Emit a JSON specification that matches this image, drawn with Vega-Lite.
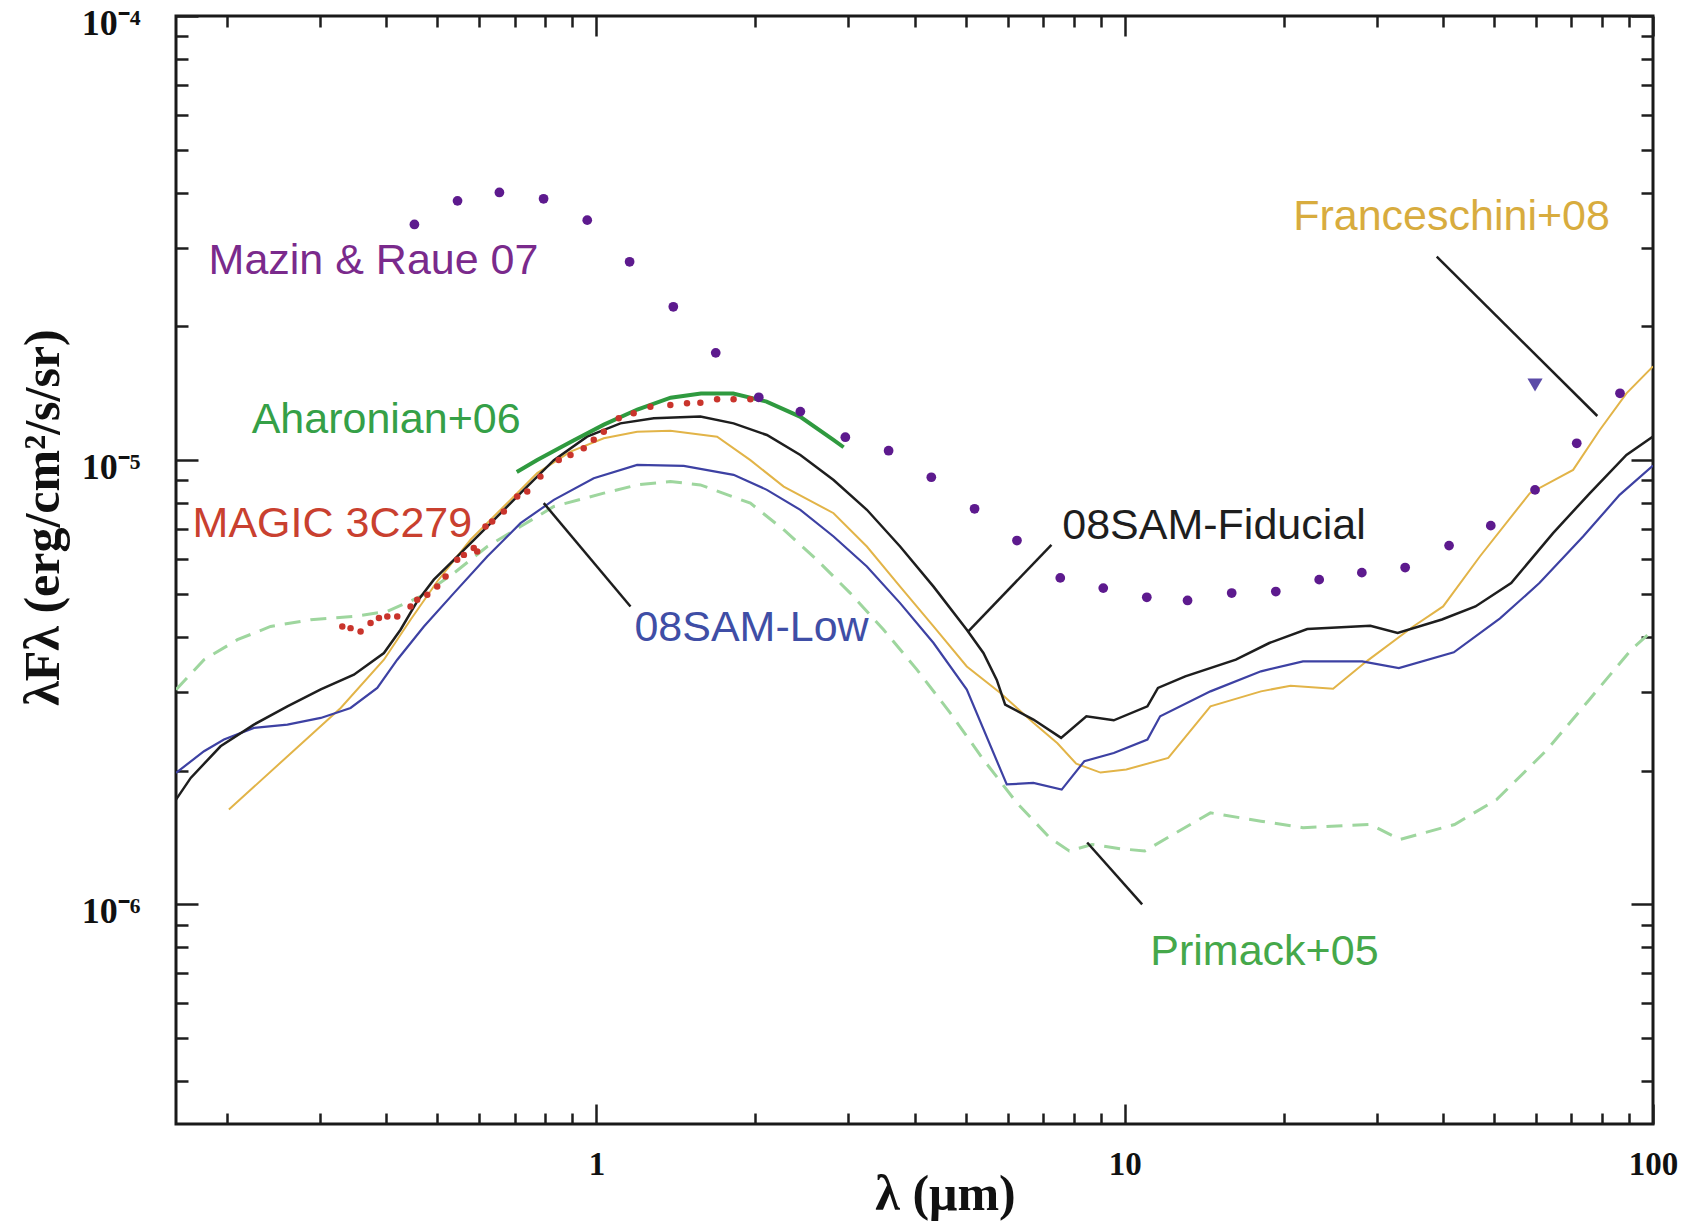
{
  "$schema": "https://vega.github.io/schema/vega-lite/v6.json",
  "width": 1477,
  "height": 1108,
  "autosize": {"type": "none"},
  "padding": {"left": 176, "top": 16, "right": 37, "bottom": 102},
  "background": "white",
  "config": {
    "view": {"stroke": "#1a1a1a", "strokeWidth": 3},
    "axis": {"domain": false, "grid": false}
  },
  "datasets": {
    "fiducial": [
      {"x":0.16,"y":1.72e-6},{"x":0.1706,"y":1.925e-6},{"x":0.1943,"y":2.268e-6},{"x":0.2247,"y":2.538e-6},{"x":0.26,"y":2.79e-6},{"x":0.3007,"y":3.045e-6},{"x":0.3474,"y":3.287e-6},{"x":0.396,"y":3.677e-6},{"x":0.4257,"y":4.151e-6},{"x":0.4578,"y":4.806e-6},{"x":0.4922,"y":5.381e-6},{"x":0.5372,"y":5.963e-6},{"x":0.6213,"y":7.087e-6},{"x":0.7183,"y":8.425e-6},{"x":0.8305,"y":1.0e-5},{"x":0.96,"y":1.129e-5},{"x":1.11,"y":1.21e-5},{"x":1.284,"y":1.242e-5},{"x":1.573,"y":1.253e-5},{"x":1.818,"y":1.21e-5},{"x":2.102,"y":1.139e-5},{"x":2.432,"y":1.027e-5},{"x":2.811,"y":9.02e-6},{"x":3.25,"y":7.73e-6},{"x":3.757,"y":6.39e-6},{"x":4.346,"y":5.19e-6},{"x":5.024,"y":4.15e-6},{"x":5.401,"y":3.68e-6},{"x":5.725,"y":3.2e-6},{"x":5.938,"y":2.815e-6},{"x":6.716,"y":2.605e-6},{"x":7.578,"y":2.369e-6},{"x":8.461,"y":2.649e-6},{"x":9.533,"y":2.595e-6},{"x":11.04,"y":2.79e-6},{"x":11.56,"y":3.069e-6},{"x":13.02,"y":3.258e-6},{"x":16.23,"y":3.553e-6},{"x":18.78,"y":3.874e-6},{"x":22.16,"y":4.165e-6},{"x":29.17,"y":4.238e-6},{"x":32.86,"y":4.08e-6},{"x":39.85,"y":4.377e-6},{"x":46.12,"y":4.683e-6},{"x":53.89,"y":5.286e-6},{"x":64.69,"y":6.85e-6},{"x":75.89,"y":8.42e-6},{"x":89.07,"y":1.027e-5},{"x":100,"y":1.13e-5}
    ],
    "low": [
      {"x":0.16,"y":1.976e-6},{"x":0.1808,"y":2.211e-6},{"x":0.1972,"y":2.348e-6},{"x":0.2247,"y":2.495e-6},{"x":0.26,"y":2.538e-6},{"x":0.3007,"y":2.627e-6},{"x":0.3424,"y":2.766e-6},{"x":0.3847,"y":3.069e-6},{"x":0.4197,"y":3.553e-6},{"x":0.4714,"y":4.221e-6},{"x":0.5372,"y":5.018e-6},{"x":0.6213,"y":6.067e-6},{"x":0.7183,"y":7.211e-6},{"x":0.8305,"y":8.137e-6},{"x":0.9883,"y":9.105e-6},{"x":1.194,"y":9.757e-6},{"x":1.463,"y":9.703e-6},{"x":1.818,"y":9.264e-6},{"x":2.102,"y":8.571e-6},{"x":2.432,"y":7.727e-6},{"x":2.811,"y":6.731e-6},{"x":3.25,"y":5.761e-6},{"x":3.757,"y":4.764e-6},{"x":4.346,"y":3.874e-6},{"x":5.024,"y":3.042e-6},{"x":5.98,"y":1.861e-6},{"x":6.716,"y":1.876e-6},{"x":7.598,"y":1.812e-6},{"x":8.385,"y":2.099e-6},{"x":9.533,"y":2.191e-6},{"x":11.04,"y":2.348e-6},{"x":11.67,"y":2.649e-6},{"x":14.53,"y":3.015e-6},{"x":18.11,"y":3.345e-6},{"x":21.75,"y":3.522e-6},{"x":28.15,"y":3.522e-6},{"x":33.03,"y":3.403e-6},{"x":41.97,"y":3.692e-6},{"x":51.34,"y":4.401e-6},{"x":60.95,"y":5.286e-6},{"x":73.73,"y":6.731e-6},{"x":86.47,"y":8.35e-6},{"x":100,"y":9.725e-6}
    ],
    "franceschini": [
      {"x":0.2015,"y":1.634e-6},{"x":0.328,"y":2.766e-6},{"x":0.396,"y":3.553e-6},{"x":0.4447,"y":4.372e-6},{"x":0.4995,"y":5.33e-6},{"x":0.5776,"y":6.616e-6},{"x":0.6678,"y":7.862e-6},{"x":0.7724,"y":9.348e-6},{"x":0.8931,"y":1.045e-5},{"x":1.0325,"y":1.12e-5},{"x":1.194,"y":1.159e-5},{"x":1.38,"y":1.165e-5},{"x":1.692,"y":1.129e-5},{"x":1.956,"y":1.0e-5},{"x":2.262,"y":8.717e-6},{"x":2.811,"y":7.594e-6},{"x":3.25,"y":6.39e-6},{"x":3.757,"y":5.19e-6},{"x":4.346,"y":4.221e-6},{"x":5.024,"y":3.431e-6},{"x":5.808,"y":2.995e-6},{"x":6.716,"y":2.561e-6},{"x":7.458,"y":2.304e-6},{"x":8.094,"y":2.072e-6},{"x":8.999,"y":1.979e-6},{"x":10.07,"y":2.01e-6},{"x":12.09,"y":2.136e-6},{"x":14.53,"y":2.79e-6},{"x":18.11,"y":3.015e-6},{"x":20.6,"y":3.105e-6},{"x":24.8,"y":3.055e-6},{"x":28.69,"y":3.523e-6},{"x":35.16,"y":4.221e-6},{"x":40.06,"y":4.683e-6},{"x":47.01,"y":6.067e-6},{"x":58.46,"y":8.425e-6},{"x":70.6,"y":9.504e-6},{"x":79.29,"y":1.169e-5},{"x":89.07,"y":1.414e-5},{"x":100,"y":1.626e-5}
    ],
    "primack": [
      {"x":0.16,"y":3.042e-6},{"x":0.1808,"y":3.553e-6},{"x":0.2091,"y":3.941e-6},{"x":0.2416,"y":4.221e-6},{"x":0.2877,"y":4.372e-6},{"x":0.3474,"y":4.446e-6},{"x":0.4019,"y":4.564e-6},{"x":0.4646,"y":4.932e-6},{"x":0.5372,"y":5.564e-6},{"x":0.6213,"y":6.39e-6},{"x":0.7183,"y":7.087e-6},{"x":0.8305,"y":7.862e-6},{"x":1.0325,"y":8.425e-6},{"x":1.194,"y":8.794e-6},{"x":1.38,"y":8.95e-6},{"x":1.573,"y":8.794e-6},{"x":1.956,"y":8.0e-6},{"x":2.262,"y":6.97e-6},{"x":2.614,"y":5.963e-6},{"x":3.023,"y":5.018e-6},{"x":3.496,"y":4.15e-6},{"x":4.042,"y":3.375e-6},{"x":4.673,"y":2.697e-6},{"x":5.401,"y":2.117e-6},{"x":6.248,"y":1.692e-6},{"x":7.216,"y":1.41e-6},{"x":7.852,"y":1.318e-6},{"x":8.667,"y":1.363e-6},{"x":9.837,"y":1.333e-6},{"x":10.91,"y":1.318e-6},{"x":14.53,"y":1.606e-6},{"x":18.11,"y":1.538e-6},{"x":21.75,"y":1.487e-6},{"x":29.17,"y":1.512e-6},{"x":33.19,"y":1.399e-6},{"x":42.11,"y":1.512e-6},{"x":50.58,"y":1.72e-6},{"x":63.04,"y":2.229e-6},{"x":75.75,"y":2.888e-6},{"x":90.95,"y":3.743e-6},{"x":100,"y":4.14e-6}
    ],
    "aharonian": [
      {"x":0.7066,"y":9.404e-6},{"x":0.7724,"y":1.0e-5},{"x":0.8935,"y":1.099e-5},{"x":1.033,"y":1.202e-5},{"x":1.195,"y":1.3e-5},{"x":1.382,"y":1.382e-5},{"x":1.577,"y":1.413e-5},{"x":1.815,"y":1.413e-5},{"x":2.099,"y":1.354e-5},{"x":2.428,"y":1.253e-5},{"x":2.809,"y":1.111e-5},{"x":2.937,"y":1.069e-5}
    ],
    "magic": [
      {"x":0.3303,"y":4.221e-6},{"x":0.3424,"y":4.185e-6},{"x":0.3577,"y":4.114e-6},{"x":0.3736,"y":4.297e-6},{"x":0.3875,"y":4.409e-6},{"x":0.4019,"y":4.446e-6},{"x":0.4197,"y":4.446e-6},{"x":0.4447,"y":4.683e-6},{"x":0.4578,"y":4.847e-6},{"x":0.4784,"y":4.977e-6},{"x":0.4995,"y":5.19e-6},{"x":0.5181,"y":5.469e-6},{"x":0.545,"y":5.963e-6},{"x":0.5611,"y":6.118e-6},{"x":0.5858,"y":6.337e-6},{"x":0.5947,"y":6.225e-6},{"x":0.6166,"y":7.087e-6},{"x":0.6348,"y":7.276e-6},{"x":0.6678,"y":7.66e-6},{"x":0.7079,"y":8.28e-6},{"x":0.7396,"y":8.496e-6},{"x":0.7834,"y":9.18e-6},{"x":0.8485,"y":1.0e-5},{"x":0.8931,"y":1.027e-5},{"x":0.9461,"y":1.063e-5},{"x":0.9883,"y":1.111e-5},{"x":1.0325,"y":1.159e-5},{"x":1.102,"y":1.242e-5},{"x":1.176,"y":1.275e-5},{"x":1.265,"y":1.318e-5},{"x":1.38,"y":1.331e-5},{"x":1.484,"y":1.343e-5},{"x":1.573,"y":1.347e-5},{"x":1.692,"y":1.371e-5},{"x":1.818,"y":1.371e-5},{"x":1.956,"y":1.371e-5}
    ],
    "mazin": [
      {"x":0.4523,"y":3.393e-5},{"x":0.5458,"y":3.835e-5},{"x":0.6551,"y":4.005e-5},{"x":0.7942,"y":3.876e-5},{"x":0.9607,"y":3.47e-5},{"x":1.1555,"y":2.796e-5},{"x":1.398,"y":2.214e-5},{"x":1.682,"y":1.744e-5},{"x":2.029,"y":1.385e-5},{"x":2.432,"y":1.286e-5},{"x":2.959,"y":1.126e-5},{"x":3.573,"y":1.05e-5},{"x":4.304,"y":9.15e-6},{"x":5.197,"y":7.77e-6},{"x":6.252,"y":6.59e-6},{"x":7.551,"y":5.43e-6},{"x":9.107,"y":5.15e-6},{"x":11.01,"y":4.91e-6},{"x":13.15,"y":4.83e-6},{"x":15.94,"y":5.02e-6},{"x":19.32,"y":5.06e-6},{"x":23.34,"y":5.38e-6},{"x":28.11,"y":5.58e-6},{"x":33.95,"y":5.73e-6},{"x":41.11,"y":6.42e-6},{"x":49.31,"y":7.12e-6},{"x":59.8,"y":8.57e-6},{"x":71.72,"y":1.091e-5},{"x":86.6,"y":1.414e-5}
    ],
    "limit": [
      {"x":59.8,"y":1.476e-5}
    ],
    "labels": [
      {"label":"Mazin & Raue 07","x":0.1844,"y":2.805e-5},
      {"label":"Aharonian+06","x":0.2225,"y":1.231e-5},
      {"label":"MAGIC 3C279","x":0.172,"y":7.187e-6},
      {"label":"08SAM-Low","x":1.18,"y":4.193e-6},
      {"label":"08SAM-Fiducial","x":7.616,"y":7.112e-6},
      {"label":"Primack+05","x":11.18,"y":7.79e-7},
      {"label":"Franceschini+08","x":20.84,"y":3.524e-5}
    ],
    "leaders": [
      {"x":38.96,"y":2.871e-5,"x2":78.46,"y2":1.257e-5},
      {"x":7.266,"y":6.447e-6,"x2":5.057,"y2":4.114e-6},
      {"x":0.7948,"y":8.0e-6,"x2":1.16,"y2":4.683e-6},
      {"x":8.49,"y":1.377e-6,"x2":10.79,"y2":9.99e-7}
    ]
  },
  "layer": [
    {
      "data": {"name": "primack"},
      "mark": {"type": "line", "color": "#9ed69e", "strokeWidth": 3, "strokeDash": [16, 10], "clip": true},
      "encoding": {
        "x": {"field": "x", "type": "quantitative", "scale": {"type": "log", "domain": [0.16, 100], "nice": false}, "axis": null},
        "y": {"field": "y", "type": "quantitative", "scale": {"type": "log", "domain": [3.2e-7, 0.0001], "nice": false}, "axis": null}
      }
    },
    {
      "data": {"name": "franceschini"},
      "mark": {"type": "line", "color": "#e2b448", "strokeWidth": 2, "clip": true},
      "encoding": {
        "x": {"field": "x", "type": "quantitative", "scale": {"type": "log", "domain": [0.16, 100], "nice": false}, "axis": null},
        "y": {"field": "y", "type": "quantitative", "scale": {"type": "log", "domain": [3.2e-7, 0.0001], "nice": false}, "axis": null}
      }
    },
    {
      "data": {"name": "low"},
      "mark": {"type": "line", "color": "#3d41a3", "strokeWidth": 2.2, "clip": true},
      "encoding": {
        "x": {"field": "x", "type": "quantitative", "scale": {"type": "log", "domain": [0.16, 100], "nice": false}, "axis": null},
        "y": {"field": "y", "type": "quantitative", "scale": {"type": "log", "domain": [3.2e-7, 0.0001], "nice": false}, "axis": null}
      }
    },
    {
      "data": {"name": "fiducial"},
      "mark": {"type": "line", "color": "#1e1e1e", "strokeWidth": 2.5, "clip": true},
      "encoding": {
        "x": {"field": "x", "type": "quantitative", "scale": {"type": "log", "domain": [0.16, 100], "nice": false}, "axis": null},
        "y": {"field": "y", "type": "quantitative", "scale": {"type": "log", "domain": [3.2e-7, 0.0001], "nice": false}, "axis": null}
      }
    },
    {
      "data": {"name": "aharonian"},
      "mark": {"type": "line", "color": "#2f9a3f", "strokeWidth": 4, "clip": true},
      "encoding": {
        "x": {"field": "x", "type": "quantitative", "scale": {"type": "log", "domain": [0.16, 100], "nice": false}, "axis": null},
        "y": {"field": "y", "type": "quantitative", "scale": {"type": "log", "domain": [3.2e-7, 0.0001], "nice": false}, "axis": null}
      }
    },
    {
      "data": {"name": "magic"},
      "mark": {"type": "circle", "color": "#c9342c", "size": 42, "opacity": 1},
      "encoding": {
        "x": {"field": "x", "type": "quantitative", "scale": {"type": "log", "domain": [0.16, 100], "nice": false}, "axis": null},
        "y": {"field": "y", "type": "quantitative", "scale": {"type": "log", "domain": [3.2e-7, 0.0001], "nice": false}, "axis": null}
      }
    },
    {
      "data": {"name": "mazin"},
      "mark": {"type": "circle", "color": "#5d1a8e", "size": 95, "opacity": 1},
      "encoding": {
        "x": {"field": "x", "type": "quantitative", "scale": {"type": "log", "domain": [0.16, 100], "nice": false},
          "axis": {
            "orient": "bottom",
            "values": [0.2,0.3,0.4,0.5,0.6,0.7,0.8,0.9,1,2,3,4,5,6,7,8,9,10,20,30,40,50,60,70,80,90,100],
            "labelExpr": "datum.value == 1 ? '1' : datum.value == 10 ? '10' : datum.value == 100 ? '100' : ''",
            "tickSize": {"condition": {"test": "datum.value == 1 || datum.value == 10 || datum.value == 100", "value": -20}, "value": -11},
            "tickWidth": 2.5, "tickColor": "#1e1e1e",
            "labelFont": "Liberation Serif", "labelFontWeight": "bold", "labelFontSize": 33, "labelColor": "#111111",
            "labelPadding": 44, "labelFlush": false, "labelOverlap": false, "labelBound": false,
            "title": "λ  (μm)", "titleFont": "Liberation Serif", "titleFontSize": 50, "titleFontWeight": "bold", "titleColor": "#111111",
            "titleX": 769, "titleY": 70, "titleBaseline": "middle", "titleAlign": "center"
          }
        },
        "y": {"field": "y", "type": "quantitative", "scale": {"type": "log", "domain": [3.2e-7, 0.0001], "nice": false},
          "axis": {
            "orient": "left",
            "values": [4e-7,5e-7,6e-7,7e-7,8e-7,9e-7,1e-6,2e-6,3e-6,4e-6,5e-6,6e-6,7e-6,8e-6,9e-6,1e-5,2e-5,3e-5,4e-5,5e-5,6e-5,7e-5,8e-5,9e-5,0.0001],
            "labelExpr": "datum.value == 0.0001 ? '10⁻⁴' : datum.value == 0.00001 ? '10⁻⁵' : datum.value == 0.000001 ? '10⁻⁶' : ''",
            "tickSize": {"condition": {"test": "datum.value == 0.0001 || datum.value == 0.00001 || datum.value == 0.000001", "value": -22}, "value": -12},
            "tickWidth": 2.5, "tickColor": "#1e1e1e",
            "labelFont": "Liberation Serif", "labelFontWeight": "bold", "labelFontSize": 36, "labelColor": "#111111",
            "labelPadding": 58, "labelOffset": 7, "labelFlush": false, "labelOverlap": false, "labelBound": false,
            "title": "λFλ (erg/cm²/s/sr)", "titleFont": "Liberation Serif", "titleFontSize": 50, "titleFontWeight": "bold", "titleColor": "#111111",
            "titleX": -133, "titleY": 501, "titleBaseline": "middle", "titleAlign": "center"
          }
        }
      }
    },
    {
      "data": {"name": "limit"},
      "mark": {"type": "point", "shape": "triangle-down", "filled": true, "color": "#5b4ba8", "size": 230, "opacity": 1},
      "encoding": {
        "x": {"field": "x", "type": "quantitative", "scale": {"type": "log", "domain": [0.16, 100], "nice": false},
          "axis": {
            "orient": "top",
            "values": [0.2,0.3,0.4,0.5,0.6,0.7,0.8,0.9,1,2,3,4,5,6,7,8,9,10,20,30,40,50,60,70,80,90,100],
            "labels": false, "title": null,
            "tickSize": {"condition": {"test": "datum.value == 1 || datum.value == 10 || datum.value == 100", "value": -20}, "value": -11},
            "tickWidth": 2.5, "tickColor": "#1e1e1e"
          }
        },
        "y": {"field": "y", "type": "quantitative", "scale": {"type": "log", "domain": [3.2e-7, 0.0001], "nice": false},
          "axis": {
            "orient": "right",
            "values": [4e-7,5e-7,6e-7,7e-7,8e-7,9e-7,1e-6,2e-6,3e-6,4e-6,5e-6,6e-6,7e-6,8e-6,9e-6,1e-5,2e-5,3e-5,4e-5,5e-5,6e-5,7e-5,8e-5,9e-5,0.0001],
            "labels": false, "title": null,
            "tickSize": {"condition": {"test": "datum.value == 0.0001 || datum.value == 0.00001 || datum.value == 0.000001", "value": -22}, "value": -12},
            "tickWidth": 2.5, "tickColor": "#1e1e1e"
          }
        }
      }
    },
    {
      "data": {"name": "leaders"},
      "mark": {"type": "rule", "color": "#1e1e1e", "strokeWidth": 2.5},
      "encoding": {
        "x": {"field": "x", "type": "quantitative", "scale": {"type": "log", "domain": [0.16, 100], "nice": false}, "axis": null},
        "y": {"field": "y", "type": "quantitative", "scale": {"type": "log", "domain": [3.2e-7, 0.0001], "nice": false}, "axis": null},
        "x2": {"field": "x2"},
        "y2": {"field": "y2"}
      }
    },
    {
      "data": {"name": "labels"},
      "mark": {"type": "text", "align": "left", "baseline": "middle", "font": "Liberation Sans", "fontSize": 43},
      "encoding": {
        "x": {"field": "x", "type": "quantitative", "scale": {"type": "log", "domain": [0.16, 100], "nice": false}, "axis": null},
        "y": {"field": "y", "type": "quantitative", "scale": {"type": "log", "domain": [3.2e-7, 0.0001], "nice": false}, "axis": null},
        "text": {"field": "label"},
        "color": {"field": "label", "type": "nominal", "legend": null,
          "scale": {"domain": ["Mazin & Raue 07","Aharonian+06","MAGIC 3C279","08SAM-Low","08SAM-Fiducial","Primack+05","Franceschini+08"],
                    "range": ["#7a2a8c","#35a047","#c9402f","#3f4ea6","#1e1e1e","#45a84a","#d8ac3e"]}}
      }
    }
  ],
  "resolve": {"axis": {"x": "independent", "y": "independent"}}
}
